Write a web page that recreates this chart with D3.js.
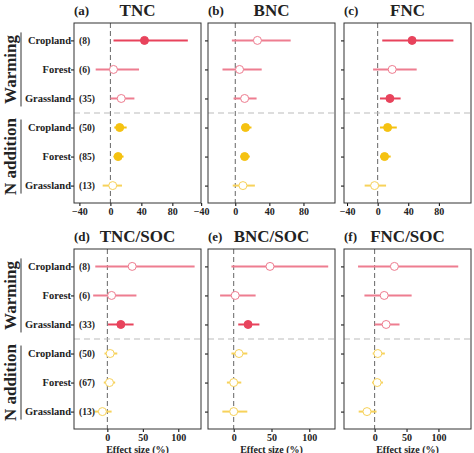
<!DOCTYPE html>
<html><head><meta charset="utf-8">
<script src="https://cdn.jsdelivr.net/npm/d3@7"></script>
<style>
body{margin:0;background:#fff;}
text{font-family:"Liberation Serif","Times New Roman",serif;font-weight:bold;fill:#222;}
</style></head>
<body>
<script>
// row labels and sample sizes
var ecosystems = ["Cropland", "Forest", "Grassland", "Cropland", "Forest", "Grassland"];
var treatments = ["warming", "warming", "warming", "N", "N", "N"];
var nTop = ["(8)", "(6)", "(35)", "(50)", "(85)", "(13)"];
var nBottom = ["(8)", "(6)", "(33)", "(50)", "(67)", "(13)"];

// [mean, lower, upper, significant]
var tnc = [[44,4,100,1],[4,-19,37,0],[14,0,31,0],[12,5,21,1],[10,4,17,1],[3,-10,15,0]];
var bnc = [[26,-4,65,0],[5,-15,31,0],[11,-2,25,0],[12,7,19,1],[11,6,17,1],[9,-3,23,0]];
var fnc = [[45,6,99,1],[19,-6,51,0],[16,3,30,1],[13,3,25,1],[9,3,17,1],[-4,-17,11,0]];
var tncSoc = [[35,-17,123,0],[6,-20,41,0],[19,1,37,1],[4,-4,14,0],[3,-5,11,0],[-7,-18,6,0]];
var bncSoc = [[48,-3,125,0],[2,-18,29,0],[19,6,34,1],[7,-3,18,0],[0,-9,10,0],[0,-15,18,0]];
var fncSoc = [[31,-26,131,0],[15,-16,58,0],[18,0,39,0],[5,-3,16,0],[4,-4,13,0],[-12,-25,3,0]];

var ticksTop = [-40, 0, 40, 80];
var ticksBottom = [0, 50, 100];

var colors = {warming: "#e8435c", N: "#f5c211"};
var lightColors = {warming: "#ee7d90", N: "#f7d25a"};

var panels = [
  {tag:"(a)", title:"TNC", data:tnc, x:74, y:23, dom:[-47,117], ticks:ticksTop, labels:true, n:nTop},
  {tag:"(b)", title:"BNC", data:bnc, x:208, y:23, dom:[-32,117], ticks:ticksTop},
  {tag:"(c)", title:"FNC", data:fnc, x:344, y:23, dom:[-44,122], ticks:ticksTop},
  {tag:"(d)", title:"TNC/SOC", data:tncSoc, x:74, y:249, dom:[-47,132], ticks:ticksBottom, labels:true, n:nBottom, xlab:true},
  {tag:"(e)", title:"BNC/SOC", data:bncSoc, x:208, y:249, dom:[-34,134], ticks:ticksBottom, xlab:true},
  {tag:"(f)", title:"FNC/SOC", data:fncSoc, x:344, y:249, dom:[-48,151], ticks:ticksBottom, xlab:true}
];

var pw = 127, ph = 180;

var svg = d3.select("body").append("svg").attr("width", 474).attr("height", 453);

panels.forEach(function(p){
  var g = svg.append("g").attr("transform", "translate(" + p.x + "," + p.y + ")");
  var x = d3.scaleLinear().domain(p.dom).range([0, pw]);
  var y = d3.scaleLinear().domain([-0.6, 5.6]).range([0, ph]);

  var xAxis = d3.axisBottom(x).tickValues(p.ticks).tickSize(3).tickPadding(2).tickSizeOuter(0);
  var ax = g.append("g").attr("transform", "translate(0," + ph + ")").call(xAxis);
  ax.select(".domain").remove();
  ax.selectAll("text").style("font-size", "10px").attr("fill", "#222");

  var yAxis = d3.axisLeft(y).tickValues([0,1,2,3,4,5]).tickSize(3).tickFormat("");
  var ay = g.append("g").call(yAxis);
  ay.select(".domain").remove();

  // zero line
  g.append("line").attr("x1", x(0)).attr("x2", x(0)).attr("y1", 0).attr("y2", ph)
    .attr("stroke", "#666").attr("stroke-dasharray", "5,3").attr("stroke-width", 1);

  // separator between treatments
  g.append("line").attr("x1", 0).attr("x2", pw).attr("y1", y(2.5)).attr("y2", y(2.5))
    .attr("stroke", "#bbb").attr("stroke-dasharray", "6,4").attr("stroke-width", 1);

  p.data.forEach(function(d, i){
    var t = treatments[i];
    var c = d[3] ? colors[t] : lightColors[t];
    g.append("line").attr("x1", x(d[1])).attr("x2", x(d[2])).attr("y1", y(i)).attr("y2", y(i))
      .attr("stroke", c).attr("stroke-width", 2);
    g.append("circle").attr("cx", x(d[0])).attr("cy", y(i)).attr("r", 4)
      .attr("fill", d[3] ? c : "#fff").attr("stroke", c).attr("stroke-width", 1);
  });

  g.append("rect").attr("width", pw).attr("height", ph).attr("fill", "none")
    .attr("stroke", "#333").attr("stroke-width", 1);

  g.append("text").attr("x", 0).attr("y", -8).style("font-size", "13px").text(p.tag);
  g.append("text").attr("x", pw / 2).attr("y", -7).attr("text-anchor", "middle")
    .style("font-size", "17px").text(p.title);

  if(p.xlab){
    g.append("text").attr("x", pw / 2).attr("y", ph + 24).attr("text-anchor", "middle")
      .style("font-size", "10px").text("Effect size (%)");
  }

  if(p.labels){
    ecosystems.forEach(function(e, i){
      g.append("text").attr("x", -3).attr("y", y(i) + 3.5).attr("text-anchor", "end")
        .style("font-size", "10.5px").text(e);
      g.append("text").attr("x", 5).attr("y", y(i) + 3.5)
        .style("font-size", "9.5px").text(p.n[i]);
    });
    [["Warming", 0, 2], ["N addition", 3, 5]].forEach(function(gr){
      var y0 = y(gr[1]) - 8, y1 = y(gr[2]) + 8;
      g.append("line").attr("x1", -53).attr("x2", -53).attr("y1", y0).attr("y2", y1)
        .attr("stroke", "#333").attr("stroke-width", 1);
      var cy = (y0 + y1) / 2;
      g.append("text").attr("transform", "translate(-58," + cy + ") rotate(-90)")
        .attr("text-anchor", "middle").style("font-size", "17px").text(gr[0]);
    });
  }
});
</script>
</body></html>
